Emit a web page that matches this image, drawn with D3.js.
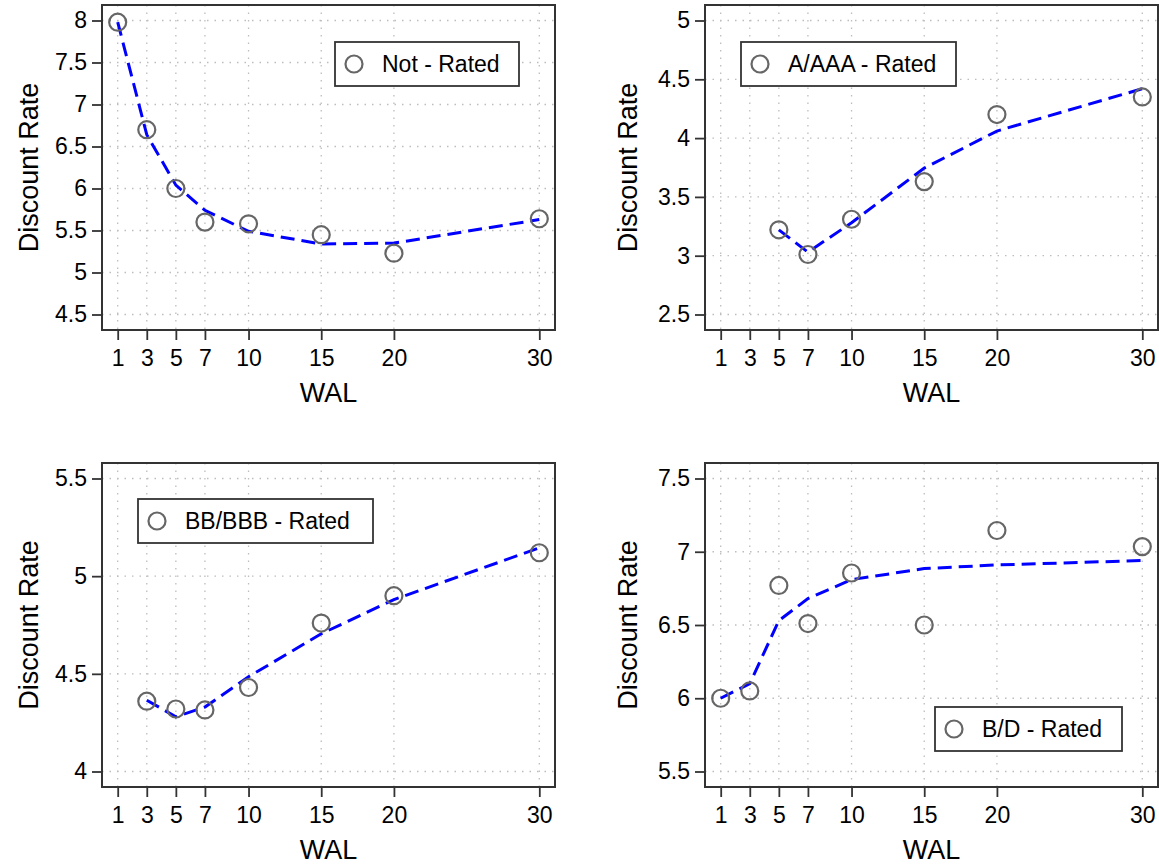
<!DOCTYPE html>
<html>
<head>
<meta charset="utf-8">
<script src="https://cdn.jsdelivr.net/npm/d3@7"></script>
<style>
  html, body { margin: 0; padding: 0; background: #fff; }
  svg { display: block; font-family: "Liberation Sans", Arial, sans-serif; }
</style>
</head>
<body>
<svg id="chart" width="1159" height="867"></svg>
<script>
// ---- data ----
const xTicks = [1, 3, 5, 7, 10, 15, 20, 30];

const notRatedX   = [1, 3, 5, 7, 10, 15, 20, 30];
const notRatedY   = [7.98, 6.70, 6.00, 5.60, 5.58, 5.45, 5.23, 5.64];
const notRatedFit = [7.98, 6.64, 6.04, 5.74, 5.49, 5.34, 5.35, 5.63];
const notRatedTicks = [4.5, 5, 5.5, 6, 6.5, 7, 7.5, 8];

const aRatedX   = [5, 7, 10, 15, 20, 30];
const aRatedY   = [3.22, 3.01, 3.31, 3.63, 4.20, 4.35];
const aRatedFit = [3.22, 3.03, 3.28, 3.745, 4.06, 4.42];
const aRatedTicks = [2.5, 3, 3.5, 4, 4.5, 5];

const bbRatedX   = [3, 5, 7, 10, 15, 20, 30];
const bbRatedY   = [4.36, 4.32, 4.315, 4.43, 4.76, 4.90, 5.12];
const bbRatedFit = [4.365, 4.28, 4.33, 4.485, 4.705, 4.88, 5.145];
const bbRatedTicks = [4, 4.5, 5, 5.5];

const bdRatedX   = [1, 3, 5, 7, 10, 15, 20, 30];
const bdRatedY   = [6.00, 6.05, 6.77, 6.51, 6.855, 6.50, 7.145, 7.035];
const bdRatedFit = [6.00, 6.10, 6.53, 6.68, 6.81, 6.885, 6.91, 6.94];
const bdRatedTicks = [5.5, 6, 6.5, 7, 7.5];

const legendLabels = ["Not - Rated", "A/AAA - Rated", "BB/BBB - Rated", "B/D - Rated"];
const xTitle = "WAL";
const yTitle = "Discount Rate";

// ---- layout ----
const panels = [
  { x: notRatedX, y: notRatedY, fit: notRatedFit, ticks: notRatedTicks, label: legendLabels[0],
    frame: { l: 102, r: 555, t: 5, b: 330 }, titleOff: 64, legend: { x: 335, y: 42, w: 184 } },
  { x: aRatedX, y: aRatedY, fit: aRatedFit, ticks: aRatedTicks, label: legendLabels[1],
    frame: { l: 705, r: 1158, t: 5, b: 330 }, titleOff: 68, legend: { x: 741, y: 42, w: 215 } },
  { x: bbRatedX, y: bbRatedY, fit: bbRatedFit, ticks: bbRatedTicks, label: legendLabels[2],
    frame: { l: 102, r: 555, t: 463, b: 787 }, titleOff: 64, legend: { x: 138, y: 499, w: 235 } },
  { x: bdRatedX, y: bdRatedY, fit: bdRatedFit, ticks: bdRatedTicks, label: legendLabels[3],
    frame: { l: 705, r: 1158, t: 463, b: 787 }, titleOff: 68, legend: { x: 935, y: 707, w: 187 } }
];

const svg = d3.select("#chart");
const FRAME = "#333333";
const MARKER = "#666666";
const LINE = "#0000ff";

panels.forEach(p => {
  const f = p.frame;
  const xs = d3.scaleLinear().domain([1, 30]).range([f.l + 15.7, f.r - 15.7]);
  const ys = d3.scaleLinear().domain(d3.extent(p.ticks)).range([f.b - 15.5, f.t + 15.5]);
  const g = svg.append("g");

  // background
  g.append("rect").attr("x", f.l).attr("y", f.t).attr("width", f.r - f.l).attr("height", f.b - f.t)
    .attr("fill", "#fff");

  // grid
  g.append("g").selectAll("line").data(xTicks).join("line")
    .attr("x1", d => xs(d)).attr("x2", d => xs(d))
    .attr("y1", f.t).attr("y2", f.b)
    .attr("stroke", "#bdbdbd").attr("stroke-width", 1.3).attr("stroke-dasharray", "1.5,6");
  g.append("g").selectAll("line").data(p.ticks).join("line")
    .attr("y1", d => ys(d)).attr("y2", d => ys(d))
    .attr("x1", f.l).attr("x2", f.r)
    .attr("stroke", "#bdbdbd").attr("stroke-width", 1.3).attr("stroke-dasharray", "1.5,6");

  // axes
  const ax = g.append("g").attr("transform", `translate(0,${f.b})`)
    .call(d3.axisBottom(xs).tickValues(xTicks).tickSize(10).tickPadding(10).tickFormat(d3.format("d")));
  const ay = g.append("g").attr("transform", `translate(${f.l},0)`)
    .call(d3.axisLeft(ys).tickValues(p.ticks).tickSize(10).tickPadding(5).tickFormat(d => String(d)));
  [ax, ay].forEach(a => {
    a.select(".domain").remove();
    a.selectAll(".tick line").attr("stroke", FRAME).attr("stroke-width", 1.8);
    a.selectAll(".tick text").attr("fill", "#000").style("font-size", "23px")
      .style("font-family", "'Liberation Sans', Arial, sans-serif");
  });

  // fitted line
  const fitData = p.x.map((d, i) => [d, p.fit[i]]);
  g.append("path").datum(fitData)
    .attr("d", d3.line().x(d => xs(d[0])).y(d => ys(d[1])).curve(d3.curveLinear))
    .attr("fill", "none").attr("stroke", LINE).attr("stroke-width", 3)
    .attr("stroke-dasharray", "14,7");

  // points
  const ptData = p.x.map((d, i) => [d, p.y[i]]);
  g.append("g").selectAll("circle").data(ptData).join("circle")
    .attr("cx", d => xs(d[0])).attr("cy", d => ys(d[1])).attr("r", 8.5)
    .attr("fill", "none").attr("stroke", MARKER).attr("stroke-width", 2.2);

  // legend
  const L = p.legend;
  const lg = g.append("g");
  lg.append("rect").attr("x", L.x).attr("y", L.y).attr("width", L.w).attr("height", 44)
    .attr("fill", "#fff").attr("stroke", FRAME).attr("stroke-width", 1.8);
  lg.append("circle").attr("cx", L.x + 19).attr("cy", L.y + 22).attr("r", 8.5)
    .attr("fill", "none").attr("stroke", MARKER).attr("stroke-width", 2.2);
  lg.append("text").attr("x", L.x + 47).attr("y", L.y + 30)
    .style("font-size", "23px").attr("fill", "#000").text(p.label);

  // frame
  g.append("rect").attr("x", f.l).attr("y", f.t).attr("width", f.r - f.l).attr("height", f.b - f.t)
    .attr("fill", "none").attr("stroke", FRAME).attr("stroke-width", 2);

  // titles
  g.append("text").attr("x", (f.l + f.r) / 2).attr("y", f.b + 72)
    .attr("text-anchor", "middle").style("font-size", "27px").attr("fill", "#000").text(xTitle);
  g.append("text")
    .attr("transform", `translate(${f.l - p.titleOff},${(f.t + f.b) / 2}) rotate(-90)`)
    .attr("text-anchor", "middle").style("font-size", "27px").attr("fill", "#000").text(yTitle);
});
</script>
</body>
</html>
